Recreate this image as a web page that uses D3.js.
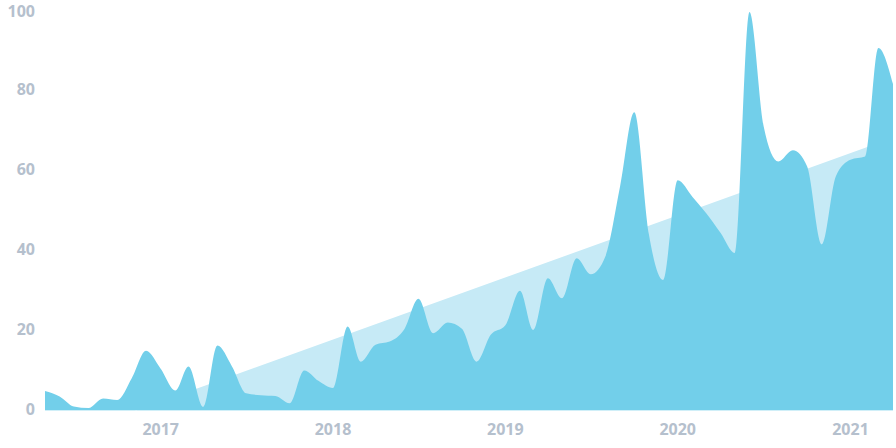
<!DOCTYPE html>
<html>
<head>
<meta charset="utf-8">
<script src="https://cdn.jsdelivr.net/npm/d3@7"></script>
<style>
  html, body { margin: 0; padding: 0; background: #fff; }
  svg { display: block; }
  .tick-label { font-family: "Open Sans", sans-serif; font-weight: 700; font-size: 16px; fill: #b5c0cd; }
</style>
</head>
<body>
<div id="container"><svg></svg></div>
<script>
const months = [
  "2016-05", "2016-06", "2016-07", "2016-08", "2016-09", "2016-10", "2016-11", "2016-12",
  "2017-01", "2017-02", "2017-03", "2017-04", "2017-05", "2017-06", "2017-07", "2017-08", "2017-09", "2017-10", "2017-11", "2017-12",
  "2018-01", "2018-02", "2018-03", "2018-04", "2018-05", "2018-06", "2018-07", "2018-08", "2018-09", "2018-10", "2018-11", "2018-12",
  "2019-01", "2019-02", "2019-03", "2019-04", "2019-05", "2019-06", "2019-07", "2019-08", "2019-09", "2019-10", "2019-11", "2019-12",
  "2020-01", "2020-02", "2020-03", "2020-04", "2020-05", "2020-06", "2020-07", "2020-08", "2020-09", "2020-10", "2020-11", "2020-12",
  "2021-01", "2021-02", "2021-03", "2021-04",
];
const values = [
  4.9, 3.5, 1.0, 0.6, 3.0, 2.6, 8.1, 14.9,
  10.4, 5.0, 11.0, 0.9, 16.2, 11.0, 4.3, 3.8, 3.6, 1.8, 10.0, 7.4,
  5.6, 21.0, 12.2, 16.4, 17.2, 20.3, 27.9, 19.3, 22.0, 20.4, 12.2, 18.9,
  21.3, 29.9, 20.1, 33.0, 28.0, 38.0, 34.0, 38.5, 56.0, 74.5, 44.0, 32.6,
  57.5, 53.4, 49.3, 44.3, 39.3, 99.5, 71.0, 62.2, 65.0, 61.0, 41.5, 58.5,
  62.6, 63.4, 90.5, 81.5,
];
// trend line value at the first and last month
const trendMonths = ["2016-05", "2021-04"];
const trendValues = [-8.2, 68.1];

const yTicks = [0, 20, 40, 60, 80, 100];
const xTicks = ["2017", "2018", "2019", "2020", "2021"];

drawChart();

function drawChart() {
  const width = 896;
  const height = 448;
  const parseMonth = d3.timeParse("%Y-%m");
  const parseYear = d3.timeParse("%Y");

  const data = months.map((m, i) => ({ date: parseMonth(m), value: values[i] }));
  const trend = trendMonths.map((m, i) => ({ date: parseMonth(m), value: trendValues[i] }));

  const svg = d3.select("#container svg")
    .attr("width", width)
    .attr("height", height);

  const x = d3.scaleTime()
    .domain(d3.extent(data, (d) => d.date))
    .range([45, 893]);

  const y = d3.scaleLinear()
    .domain([0, 100])
    .range([410.5, 10]);

  svg.append("defs")
    .append("clipPath")
    .attr("id", "plot-clip")
    .append("rect")
    .attr("x", x.range()[0])
    .attr("y", 0)
    .attr("width", x.range()[1] - x.range()[0])
    .attr("height", y(0));

  const plot = svg.append("g").attr("clip-path", "url(#plot-clip)");

  const trendArea = d3.area()
    .x((d) => x(d.date))
    .y0(y(0))
    .y1((d) => y(d.value));

  plot.append("path")
    .datum(trend)
    .attr("fill", "#c6eaf6")
    .attr("d", trendArea);

  const area = d3.area()
    .curve(d3.curveMonotoneX)
    .x((d) => x(d.date))
    .y0(y(0))
    .y1((d) => y(d.value));

  plot.append("path")
    .datum(data)
    .attr("fill", "#72cfea")
    .attr("d", area);

  // y labels (top one kept inside the frame)
  svg.append("g")
    .selectAll("text")
    .data(yTicks)
    .join("text")
    .attr("class", "tick-label")
    .attr("x", 35)
    .attr("y", (d) => Math.max(y(d) - 1.5, 11))
    .attr("text-anchor", "end")
    .attr("dominant-baseline", "central")
    .text((d) => d);

  // x labels
  svg.append("g")
    .selectAll("text")
    .data(xTicks)
    .join("text")
    .attr("class", "tick-label")
    .attr("x", (d) => x(parseYear(d)))
    .attr("y", 435)
    .attr("text-anchor", "middle")
    .text((d) => d);
}
</script>
</body>
</html>
